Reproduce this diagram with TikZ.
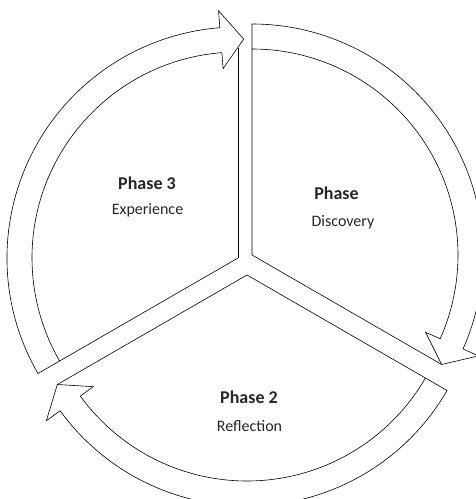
\documentclass[tikz,border=0pt]{standalone}
\usepackage{fontspec}
\setmainfont{Carlito}
\usetikzlibrary{calc}
\begin{document}
\begin{tikzpicture}[x=1pt,y=1pt,line width=0.6pt,
  phasetitle/.style={font=\bfseries\fontsize{18}{20}\selectfont,text=black!85,anchor=base},
  phasename/.style={font=\fontsize{16}{18}\selectfont,text=black!85,anchor=base}]
  \useasboundingbox (0,0) rectangle (475,499);

  % Vertices of the three slices
  \coordinate (disc) at (252,244);
  \coordinate (refl) at (247,224);
  \coordinate (expe) at (238,241);

  % Discovery slice
  \draw (disc) -- ++(90:231pt) arc[start angle=90,end angle=-24,radius=231pt]
    -- ($(disc)+(-24:248pt)$) -- ($(disc)+(-30:219pt)$) coordinate (disctip)
    -- ($(disc)+(-24:190pt)$) -- ($(disc)+(-24:206pt)$)
    arc[start angle=-24,end angle=90,radius=206pt];
  \draw (disc) -- (disctip);

  % Reflection slice
  \draw (refl) -- ++(-30:231pt) arc[start angle=-30,end angle=-144,radius=231pt]
    -- ($(refl)+(-144:248pt)$) -- ($(refl)+(-150:219pt)$) coordinate (refltip)
    -- ($(refl)+(-144:190pt)$) -- ($(refl)+(-144:206pt)$)
    arc[start angle=-144,end angle=-30,radius=206pt];
  \draw (refl) -- (refltip);

  % Experience slice
  \draw (expe) -- ++(210:231pt) arc[start angle=210,end angle=94.5,radius=231pt]
    -- ($(expe)+(94.5:248pt)$) -- ($(expe)+(88.5:219pt)$) coordinate (expetip)
    -- ($(expe)+(94.5:190pt)$) -- ($(expe)+(94.5:206pt)$)
    arc[start angle=94.5,end angle=210,radius=206pt];
  \draw (expe) -- ++(90:210pt) coordinate (expetop);

  % Labels
  \node[phasetitle] (ph1) at (336.5,299.5) {Phase};
  \node[phasename] (ph1name) at (343,272) {Discovery};
  \node[phasetitle] (ph2) at (249,95) {Phase 2};
  \node[phasename] (ph2name) at (249.5,67) {Reflection};
  \node[phasetitle] (ph3) at (147,309) {Phase 3};
  \node[phasename] (ph3name) at (147.5,284) {Experience};
\end{tikzpicture}
\end{document}
